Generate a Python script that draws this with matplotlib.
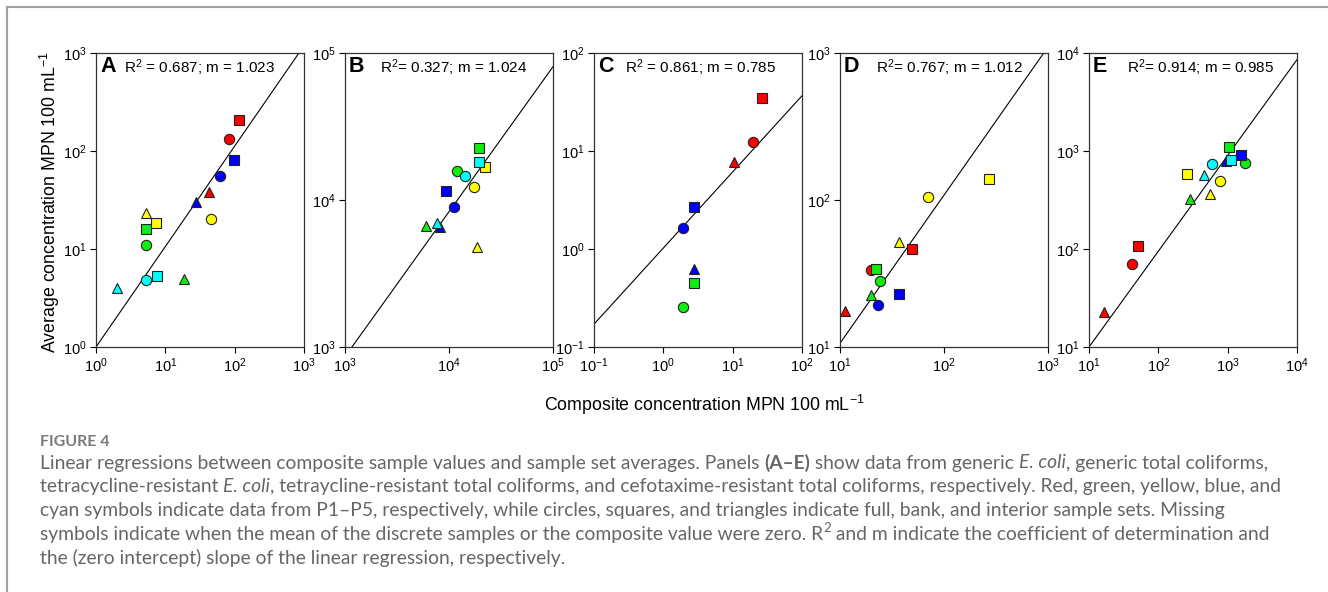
import numpy as np
import matplotlib
matplotlib.use("Agg")
import matplotlib.pyplot as plt
from matplotlib.lines import Line2D
from matplotlib.font_manager import FontProperties

plt.rcParams['font.family'] = ['Liberation Sans', 'DejaVu Sans']
plt.rcParams['mathtext.fontset'] = 'custom'
plt.rcParams['mathtext.rm'] = 'Liberation Sans'
plt.rcParams['mathtext.it'] = 'Liberation Sans:italic'
plt.rcParams['mathtext.bf'] = 'Liberation Sans:bold'
plt.rcParams['mathtext.default'] = 'regular'

# site (P1-P5) and sample set of every point, composite value (x) and average (y)
A_site = ["P1", "P1", "P1", "P2", "P2", "P2", "P3", "P3", "P3", "P4", "P4", "P4", "P5", "P5", "P5"]
A_set = ["full", "bank", "interior"] * 5
A_x = [82, 115, 43, 5.2, 5.2, 18.6, 45, 7.4, 5.2, 61, 97, 28, 5.2, 7.6, 2.0]
A_y = [132, 208, 38, 11.1, 16, 4.9, 20, 18.5, 23.5, 56, 81, 30, 4.8, 5.3, 4.0]

B_site = ["P2", "P2", "P2", "P3", "P3", "P3", "P4", "P4", "P4", "P5", "P5", "P5"]
B_set = ["full", "bank", "interior"] * 4
B_x = [11900, 19600, 6000, 17400, 22200, 18500, 11200, 9400, 8200, 14200, 19600, 7640]
B_y = [15700, 22600, 6700, 12200, 16900, 4760, 9000, 11500, 6600, 14500, 18100, 7000]

C_site = ["P1", "P1", "P1", "P2", "P2", "P4", "P4", "P4"]
C_set = ["full", "bank", "interior", "full", "bank", "full", "bank", "interior"]
C_x = [19.4, 26.8, 10.6, 1.90, 2.77, 1.90, 2.77, 2.77]
C_y = [12.3, 34.7, 7.7, 0.256, 0.451, 1.63, 2.66, 0.626]

D_site = ["P1", "P1", "P1", "P2", "P2", "P2", "P3", "P3", "P3", "P4", "P4"]
D_set = ["full", "bank", "interior"] * 3 + ["full", "bank"]
D_x = [19.8, 48.7, 11.2, 24.3, 22.1, 19.9, 70.3, 273, 37.2, 23.2, 36.6]
D_y = [33.3, 46.4, 17.5, 28.3, 33.7, 22.6, 104, 138, 51.4, 19.2, 23.1]

E_site = ["P1", "P1", "P1", "P2", "P2", "P2", "P3", "P3", "P3", "P4", "P4", "P5", "P5", "P5"]
E_set = ["full", "bank", "interior"] * 3 + ["bank", "interior"] + ["full", "bank", "interior"]
E_x = [41.8, 50.5, 16.6, 1754, 1052, 291, 771, 258, 547, 1552, 942, 604, 1125, 453]
E_y = [70.6, 108, 23.0, 755, 1102, 321, 499, 588, 367, 912, 785, 738, 811, 574]

# regression lines (end points)
A_fit_x, A_fit_y = [1, 845], [1, 1000]
B_fit_x, B_fit_y = [1166, 1e5], [1000, 80700]
C_fit_x, C_fit_y = [0.1, 100], [0.171, 36.6]
D_fit_x, D_fit_y = [10, 910], [10.6, 1000]
E_fit_x, E_fit_y = [10, 1e4], [10, 8550]

letters = ["A", "B", "C", "D", "E"]
stats = ["R$^2$ = 0.687; m = 1.023", "R$^2$= 0.327; m = 1.024", "R$^2$ = 0.861; m = 0.785",
         "R$^2$= 0.767; m = 1.012", "R$^2$= 0.914; m = 0.985"]
lims = [(1, 1e3), (1e3, 1e5), (1e-1, 1e2), (1e1, 1e3), (1e1, 1e4)]

site_color = {"P1": "#ff0000", "P2": "#10ee10", "P3": "#ffff00", "P4": "#0000ff", "P5": "#00ffff"}
set_marker = {"full": ("o", 7.4), "bank": ("s", 6.8), "interior": ("^", 7.8)}

panels = [
    (A_site, A_set, A_x, A_y, A_fit_x, A_fit_y),
    (B_site, B_set, B_x, B_y, B_fit_x, B_fit_y),
    (C_site, C_set, C_x, C_y, C_fit_x, C_fit_y),
    (D_site, D_set, D_x, D_y, D_fit_x, D_fit_y),
    (E_site, E_set, E_x, E_y, E_fit_x, E_fit_y),
]

W, H = 1328, 592
fig = plt.figure(figsize=(W / 100, H / 100), dpi=100)

# panel boxes in pixels: left, top, width, height
ax_left = [96, 345, 594, 840, 1089]
ax_top, ax_w, ax_h = 53, 208, 294
stat_off = [28, 35, 31, 36, 38]

for i, (site, sset, xs, ys, fx, fy) in enumerate(panels):
    ax = fig.add_axes([ax_left[i] / W, 1 - (ax_top + ax_h) / H, ax_w / W, ax_h / H])
    ax.set_xscale("log")
    ax.set_yscale("log")
    lo, hi = lims[i]
    ax.set_xlim(lo, hi)
    ax.set_ylim(lo, hi)
    ax.plot(fx, fy, color="black", lw=0.8, zorder=2)
    for s, st, x, y in zip(site, sset, xs, ys):
        mk, ms = set_marker[st]
        ax.plot([x], [y], linestyle="none", marker=mk, markersize=ms,
                markerfacecolor=site_color[s], markeredgecolor="#222222",
                markeredgewidth=0.8, zorder=3)
    dec = np.arange(int(round(np.log10(lo))), int(round(np.log10(hi))) + 1)
    ticks = [10.0 ** d for d in dec]
    labels = ["$10^{%d}$" % d for d in dec]
    ax.set_xticks(ticks)
    ax.set_xticklabels(labels)
    ax.set_yticks(ticks)
    ax.set_yticklabels(labels)
    ax.minorticks_off()
    ax.tick_params(direction="out", length=4, width=0.8, labelsize=10.5, pad=3)
    for sp in ax.spines.values():
        sp.set_linewidth(0.9)
        sp.set_color("#333333")
    ax.text(4 / ax_w, 1 - 3 / ax_h, letters[i], transform=ax.transAxes, ha="left", va="top",
            fontsize=15.5, fontweight="bold")
    ax.text(stat_off[i] / ax_w, 1 - 4 / ax_h, stats[i], transform=ax.transAxes, ha="left",
            va="top", fontsize=11)

fig.text(50 / W, 1 - 202 / H, "Average concentration MPN 100 mL$^{-1}$", rotation=90,
         ha="center", va="center", fontsize=12.8)
fig.text(704 / W, 1 - 405 / H, "Composite concentration MPN 100 mL$^{-1}$",
         ha="center", va="center", fontsize=12.8)

# frame of the figure box
fig.add_artist(Line2D([7 / W, 1], [1 - 7 / H, 1 - 7 / H], transform=fig.transFigure,
                      color="#a0a0a0", lw=1.5))
fig.add_artist(Line2D([7 / W, 7 / W], [0, 1 - 7 / H], transform=fig.transFigure,
                      color="#a0a0a0", lw=1.5))

# caption
cap_font = "Lato"
cap_size = 13.9
cap_col = "#666666"
fig.text(40 / W, 1 - 442 / H, "FIGURE 4", ha="left", va="center", fontsize=11.5,
         family=cap_font, fontweight="bold", color="#7a7a7a")

cap_lines = [
    [("Linear regressions between composite sample values and sample set averages. Panels ", "n"),
     ("(A–E)", "b"), (" show data from generic ", "n"), ("E. coli", "i"),
     (", generic total coliforms,", "n")],
    [("tetracycline-resistant ", "n"), ("E. coli", "i"),
     (", tetraycline-resistant total coliforms, and cefotaxime-resistant total coliforms, "
      "respectively. Red, green, yellow, blue, and", "n")],
    [("cyan symbols indicate data from P1–P5, respectively, while circles, squares, and "
      "triangles indicate full, bank, and interior sample sets. Missing", "n")],
    [("symbols indicate when the mean of the discrete samples or the composite value were zero. R", "n"),
     ("2", "sup"), (" and m indicate the coefficient of determination and", "n")],
    [("the (zero intercept) slope of the linear regression, respectively.", "n")],
]

renderer = fig.canvas.get_renderer()


def seg_props(style):
    if style == "b":
        return FontProperties(family=cap_font, size=cap_size, weight="bold")
    if style == "i":
        return FontProperties(family=cap_font, size=cap_size, style="italic")
    if style == "sup":
        return FontProperties(family=cap_font, size=cap_size * 0.7)
    return FontProperties(family=cap_font, size=cap_size)


def seg_width(s, fp):
    w1 = renderer.get_text_width_height_descent(s + "|", fp, ismath=False)[0]
    w2 = renderer.get_text_width_height_descent("|", fp, ismath=False)[0]
    return w1 - w2


for k, line in enumerate(cap_lines):
    x = 40.0
    yc = 463 + 23.7 * k
    for s, style in line:
        fp = seg_props(style)
        dy = -6 if style == "sup" else 0
        fig.text(x / W, 1 - (yc + dy) / H, s, ha="left", va="center",
                 fontproperties=fp, color=cap_col)
        x += seg_width(s, fp)

fig.savefig("out.png", dpi=100)
